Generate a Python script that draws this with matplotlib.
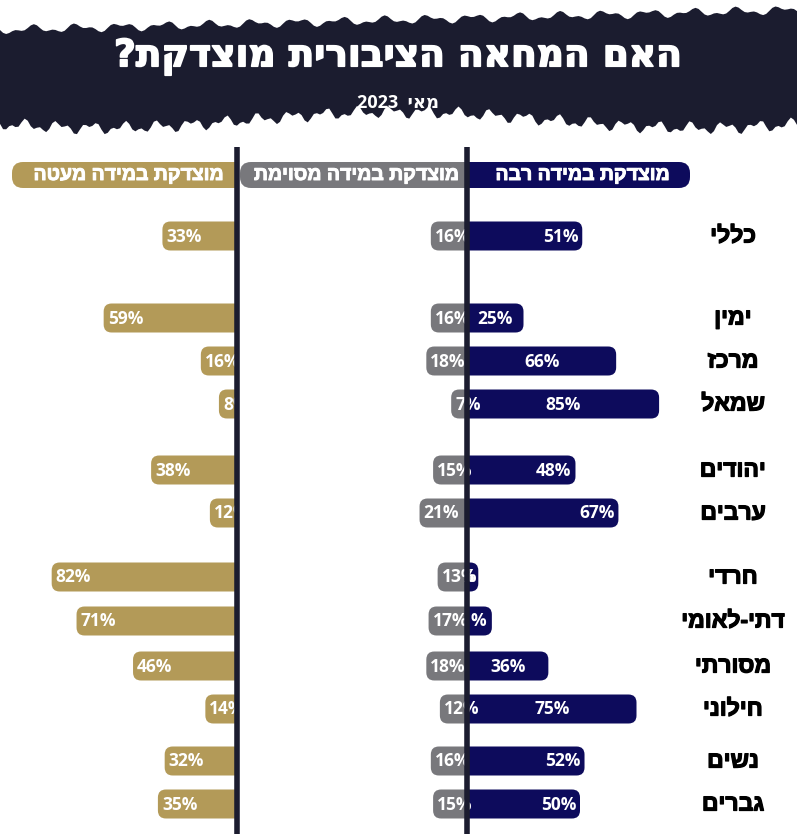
import numpy as np
import matplotlib
matplotlib.use('Agg')
import matplotlib.pyplot as plt
import matplotlib.patheffects as pe
from matplotlib.path import Path
from matplotlib.patches import PathPatch, Polygon

# ---------------- data ----------------
categories = ['כללי', 'ימין', 'מרכז', 'שמאל', 'יהודים', 'ערבים',
              'חרדי', 'דתי-לאומי', 'מסורתי', 'חילוני', 'נשים', 'גברים']
large = [51, 25, 66, 85, 48, 67, 5, 11, 36, 75, 52, 50]      # מוצדקת במידה רבה
some = [16, 16, 18, 7, 15, 21, 13, 17, 18, 12, 16, 15]       # מוצדקת במידה מסוימת
little = [33, 59, 16, 8, 38, 12, 82, 71, 46, 14, 32, 35]     # מוצדקת במידה מעטה
series_names = ['מוצדקת במידה רבה', 'מוצדקת במידה מסוימת', 'מוצדקת במידה מעטה']
title = 'האם המחאה הציבורית מוצדקת?'
subtitle = 'מאי 2023'

# ---------------- style / layout ----------------
NAVY = '#0d0b5c'
GRAY = '#78787c'
GOLD = '#b39a58'
DARK = '#1b1c2f'
W, H = 797, 834
PX = 2.26            # pixels per percent
ZERO_PX = 467        # pixel of main axis
GOLD_BASE = (237 - ZERO_PX) / PX
BAR_H = 29
FIRST_ROW = 236
ROW_GAPS = [82, 43, 43, 66, 43, 64, 44, 45, 43, 52, 43]
LARGE_LABEL_POS = ['end', 'center', 'center', 'center', 'end', 'end',
                   'end', 'end', 'center', 'center', 'end', 'end']
HEB = ['Liberation Sans', 'DejaVu Sans']
HEAVY = ['DejaVu Sans', 'Liberation Sans']
NUM = ['Open Sans', 'DejaVu Sans']


def vis(s):
    """Visual (RTL) order for matplotlib, which draws text left to right."""
    words = s.split(' ')
    out = []
    for w in reversed(words):
        if any('\u0590' <= c <= '\u05ff' for c in w):
            out.append(w[::-1])
        else:
            out.append(w)
    return ' '.join(out)


def px2x(p):
    return (p - ZERO_PX) / PX


fig = plt.figure(figsize=(W / 100, H / 100), dpi=100)
fig.patch.set_facecolor('white')
ax = fig.add_axes([0, 0, 1, 1])
ax.set_xlim(px2x(0), px2x(W))
ax.set_ylim(H, 0)
ax.axis('off')

ys = [FIRST_ROW]
for g in ROW_GAPS:
    ys.append(ys[-1] + g)
ys = np.array(ys, dtype=float)


def rounded(x0, x1, yc, h, r_px, color, z):
    """Bar from baseline x0 to outer end x1, rounded only at outer end."""
    rx = min(r_px / PX, abs(x1 - x0))
    ry = min(r_px, h / 2)
    t, b = yc - h / 2, yc + h / 2
    s = 1 if x1 >= x0 else -1
    verts = [(x0, t), (x1 - s * rx, t), (x1, t), (x1, t + ry),
             (x1, b - ry), (x1, b), (x1 - s * rx, b), (x0, b), (x0, t)]
    codes = [Path.MOVETO, Path.LINETO, Path.CURVE3, Path.CURVE3,
             Path.LINETO, Path.CURVE3, Path.CURVE3, Path.LINETO, Path.CLOSEPOLY]
    pp = PathPatch(Path(verts, codes), facecolor=color, edgecolor='none', zorder=z)
    ax.add_patch(pp)
    return pp


def draw_series(vals, base, sign, color, z, label_mode):
    bars = ax.barh(ys, [sign * v for v in vals], left=base, height=BAR_H,
                   color=color, zorder=z)
    for i, (bar, v) in enumerate(zip(bars, vals)):
        x0 = bar.get_x()
        x1 = x0 + bar.get_width()
        yc = bar.get_y() + bar.get_height() / 2
        bar.set_visible(False)
        pp = rounded(x0, x1, yc, BAR_H, 8, color, z)
        mode = label_mode[i] if isinstance(label_mode, list) else label_mode
        if mode == 'center':
            tx, ha = (x0 + x1) / 2, 'center'
        elif mode == 'end':
            tx, ha = x1 - 4 / PX, 'right'
        else:
            tx, ha = x1 + 4 / PX, 'left'
        t = ax.text(tx, yc + 0.5, f'{v}%', ha=ha, va='center', color='white',
                    fontsize=12.5, fontweight='bold', family=NUM, zorder=z + 1)
        t.set_clip_path(pp)


draw_series(large, 0, 1, NAVY, 2, LARGE_LABEL_POS)
draw_series(some, 0, -1, GRAY, 4, 'left')
draw_series(little, GOLD_BASE, -1, GOLD, 4, 'left')

# category labels
for y, c in zip(ys, categories):
    ax.text(px2x(733), y, vis(c), ha='center', va='center', fontsize=16.5,
            fontweight='bold', family=HEB, color='black', zorder=6,
            path_effects=[pe.withStroke(linewidth=0.9, foreground='black')])

# header pills
HDR_Y, HDR_H = 175, 26
hdrs = [(px2x(467), px2x(690), NAVY), (px2x(465), px2x(240), GRAY),
        (px2x(237), px2x(12), GOLD)]
for (x0, x1, col), name in zip(hdrs, series_names):
    rounded(x0, x1, HDR_Y, HDR_H, 11, col, 4)
    ax.text((x0 + x1) / 2 + 4 / PX, HDR_Y + 0.5, vis(name), ha='center', va='center',
            color='white', fontsize=14, fontweight='bold', family=HEB, zorder=6,
            path_effects=[pe.withStroke(linewidth=0.7, foreground='white')])

# vertical axis lines
for xp in (237, 467):
    ax.plot([px2x(xp), px2x(xp)], [147, H], color=DARK, lw=4, zorder=10,
            solid_capstyle='butt')

# banner
xs = np.linspace(0, W, 260)
top = 30 - 20 * xs / W + 3 * np.sin(xs / 7.0) + 2 * np.sin(xs / 3.1)
bot = 120 + 8 * np.sin(xs / 95.0 + 0.5) + 4 * np.sin(xs / 5.3) + 3 * np.sin(xs / 2.3)
poly = np.vstack([np.column_stack([xs, top]), np.column_stack([xs[::-1], bot[::-1]])])
poly[:, 0] = px2x(poly[:, 0])
ax.add_patch(Polygon(poly, closed=True, facecolor=DARK, edgecolor='none', zorder=1))

ax.text(px2x(398), 57, vis(title), ha='center', va='center', color='white',
        fontsize=27, fontweight='bold', family=HEAVY, zorder=3,
        path_effects=[pe.withStroke(linewidth=1.2, foreground='white')])
ax.text(px2x(398), 103, vis(subtitle).replace(' ', '  '), ha='center', va='center',
        color='white', fontsize=13, fontweight='bold', family=NUM, zorder=3)

fig.savefig('out.png', dpi=100, facecolor='white')
